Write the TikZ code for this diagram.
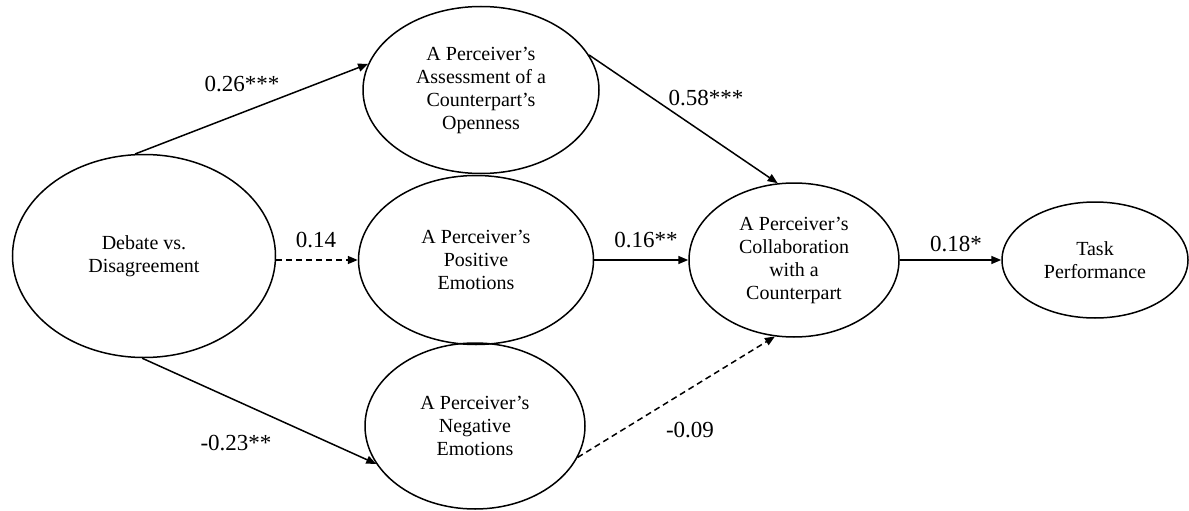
\documentclass[tikz,border=0pt]{standalone}
\usepackage{fontspec}
\setmainfont{Liberation Serif}
\newfontfamily\tms{Liberation Serif}
\usetikzlibrary{shapes.geometric,arrows.meta}
\begin{document}
\begin{tikzpicture}[x=1pt,y=-1pt,
  latent/.style={ellipse,draw,line width=1.5pt,inner sep=0pt,align=center,font=\tms\fontsize{20}{23}\selectfont},
  pathline/.style={line width=1.5pt,-{Triangle[length=10pt,width=8pt]}},
  dpathline/.style={pathline,dash pattern=on 6pt off 4pt},
  lab/.style={font=\tms\fontsize{23}{26}\selectfont,inner sep=0pt,anchor=base}]
\useasboundingbox (0,0) rectangle (1189,511);
\node[latent,minimum width=263pt,minimum height=203pt] (deb) at (144,256) {Debate vs.\\Disagreement};
\node[latent,minimum width=236pt,minimum height=167pt] (open) at (481,90) {A Perceiver’s\\Assessment of a\\Counterpart’s\\Openness};
\node[latent,minimum width=235pt,minimum height=169pt] (pos) at (476,260) {A Perceiver’s\\Positive\\Emotions};
\node[latent,minimum width=220pt,minimum height=166pt] (neg) at (475,426) {A Perceiver’s\\Negative\\Emotions};
\node[latent,minimum width=210pt,minimum height=154pt] (col) at (794,260) {A Perceiver’s\\Collaboration\\with a\\Counterpart};
\node[latent,minimum width=186pt,minimum height=116pt] (task) at (1095,260) {Task\\Performance};

\draw[pathline] (deb.95) -- (open.167);
\draw[dpathline] (deb.east |- pos.west) -- (pos.west);
\draw[pathline] (deb.269) -- (neg.201);
\draw[pathline] (open.18) -- (col.102);
\draw[pathline] (pos.east) -- (col.west);
\draw[dpathline] (neg.343) -- (col.256);
\draw[pathline] (col.east) -- (task.west);

\node[lab] (l1) at (242,92) {0.26***};
\node[lab] (l2) at (316,247) {0.14};
\node[lab] (l3) at (236,450) {-0.23**};
\node[lab] (l4) at (706,106) {0.58***};
\node[lab] (l5) at (646,247) {0.16**};
\node[lab] (l6) at (690,437) {-0.09};
\node[lab] (l7) at (956,251) {0.18*};
\end{tikzpicture}
\end{document}
